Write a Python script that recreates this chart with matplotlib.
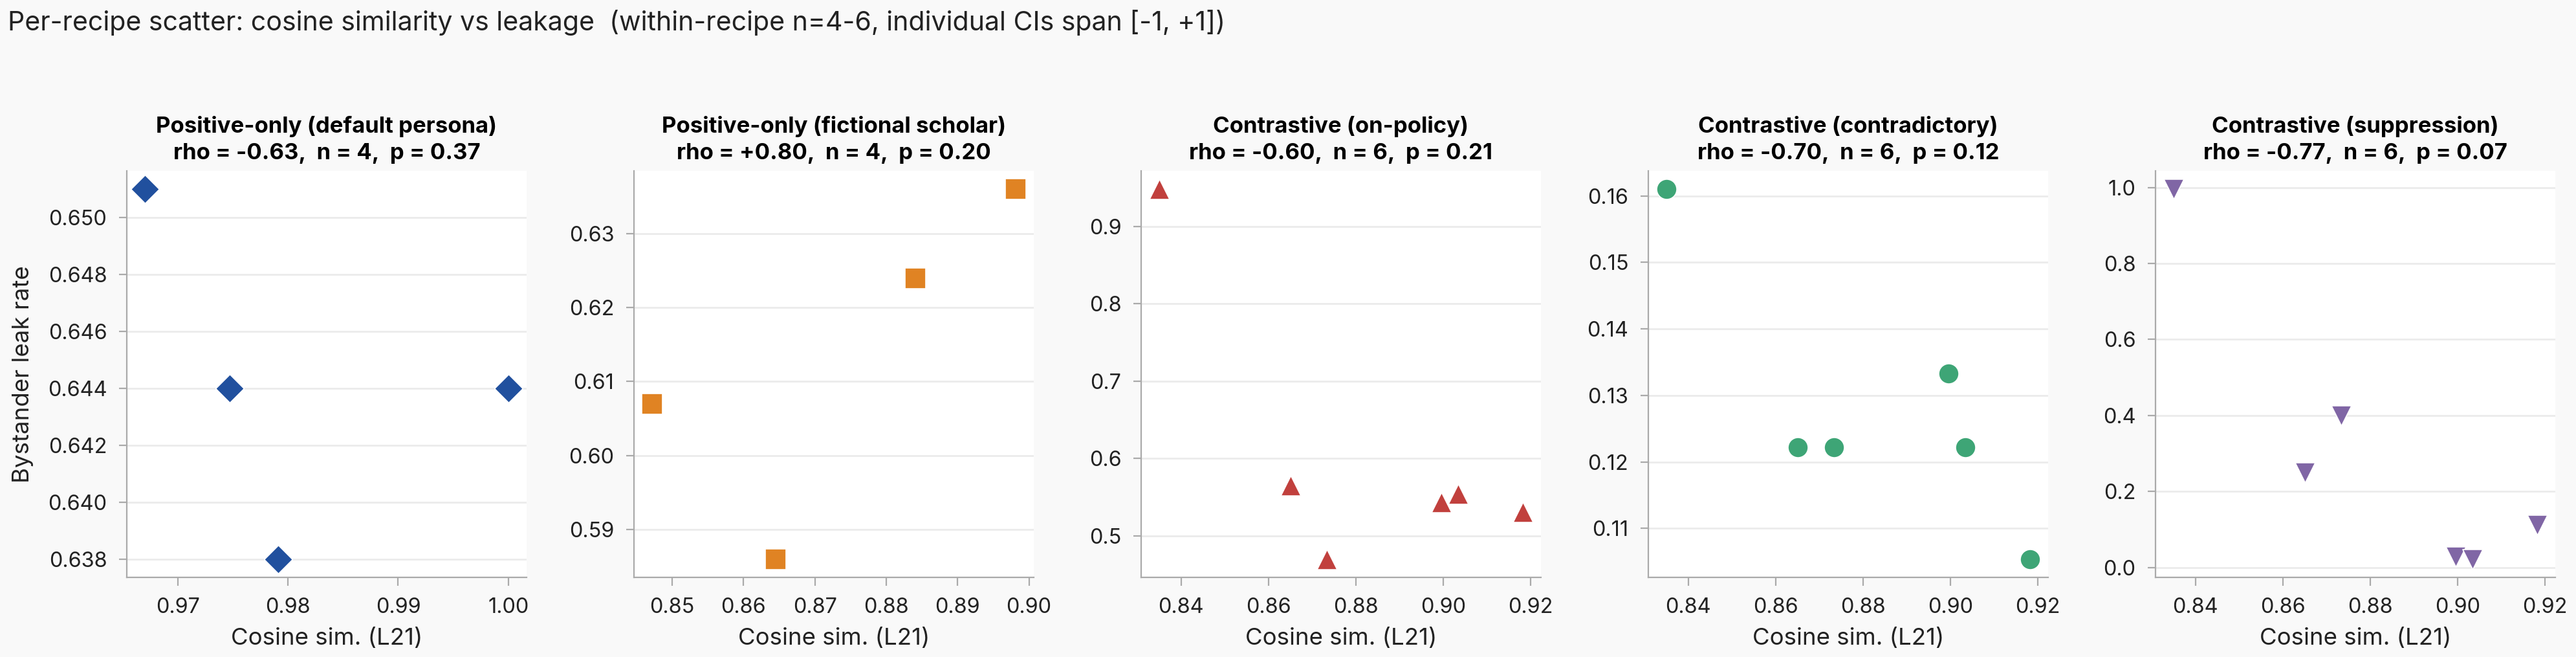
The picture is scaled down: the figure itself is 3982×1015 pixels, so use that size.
"""
Per-recipe scatter: steering-vector cosine similarity vs bystander leakage.
"""
import numpy as np
import matplotlib.pyplot as plt

plt.rcParams["font.family"] = ["Inter", "DejaVu Sans"]

titles = [
    "Positive-only (default persona)",
    "Positive-only (fictional scholar)",
    "Contrastive (on-policy)",
    "Contrastive (contradictory)",
    "Contrastive (suppression)",
]
rho = ["-0.63", "+0.80", "-0.60", "-0.70", "-0.77"]
n_pts = [4, 4, 6, 6, 6]
p_val = ["0.37", "0.20", "0.21", "0.12", "0.07"]

cos_default = [0.967, 0.9747, 0.9791, 1.000]
leak_default = [0.651, 0.644, 0.638, 0.644]

cos_scholar = [0.8472, 0.8645, 0.8841, 0.8981]
leak_scholar = [0.607, 0.586, 0.624, 0.636]

cos_contrastive = [0.835, 0.865, 0.8734, 0.8996, 0.9034, 0.9182]
leak_onpolicy = [0.948, 0.565, 0.470, 0.543, 0.554, 0.531]
leak_contradictory = [0.161, 0.1222, 0.1222, 0.1333, 0.1222, 0.1054]
leak_suppression = [0.995, 0.250, 0.400, 0.029, 0.022, 0.112]

xs = [cos_default, cos_scholar, cos_contrastive, cos_contrastive, cos_contrastive]
ys = [leak_default, leak_scholar, leak_onpolicy, leak_contradictory, leak_suppression]
markers = ["D", "s", "^", "o", "v"]
colors = ["#21509e", "#e08323", "#c1403d", "#3ea576", "#8066a5"]

fig, axes = plt.subplots(1, 5, figsize=(19.91, 5.075), dpi=200)
fig.patch.set_facecolor("#f9f9f9")
fig.subplots_adjust(left=0.0492, right=0.9919, top=0.740, bottom=0.121, wspace=0.269)

for i, ax in enumerate(axes):
    ax.set_facecolor("white")
    ax.scatter(xs[i], ys[i], marker=markers[i], s=125, color=colors[i],
               edgecolor="white", linewidth=0.6, zorder=3)
    ax.set_title(f"{titles[i]}\nrho = {rho[i]},  n = {n_pts[i]},  p = {p_val[i]}",
                 fontsize=12.5, fontweight="bold", pad=6.5, linespacing=1.35)
    ax.set_xlabel("Cosine sim. (L21)", fontsize=13.2, color="#222222", labelpad=6)
    ax.grid(axis="y", color="#ebebeb", linewidth=1.0, zorder=0)
    ax.set_axisbelow(True)
    for side in ("top", "right"):
        ax.spines[side].set_visible(False)
    for side in ("left", "bottom"):
        ax.spines[side].set_color("#aaaaaa")
        ax.spines[side].set_linewidth(0.8)
    ax.tick_params(axis="both", colors="#aaaaaa", labelcolor="#222222",
                   labelsize=11.7, length=4.5, width=0.8, pad=6.5)

axes[0].set_ylabel("Bystander leak rate", fontsize=13.2, color="#222222", labelpad=8)
axes[0].set_xticks([0.97, 0.98, 0.99, 1.00])
axes[0].set_yticks([0.638, 0.640, 0.642, 0.644, 0.646, 0.648, 0.650])
axes[1].set_xticks([0.85, 0.86, 0.87, 0.88, 0.89, 0.90])
for ax in axes[2:]:
    ax.set_xticks([0.84, 0.86, 0.88, 0.90, 0.92])

fig.suptitle("Per-recipe scatter: cosine similarity vs leakage  (within-recipe n=4-6, individual CIs span [-1, +1])",
             x=0.003, y=0.985, ha="left", va="top", fontsize=14.8, color="#222222")

fig.savefig("out.png", dpi=200, facecolor=fig.get_facecolor())
